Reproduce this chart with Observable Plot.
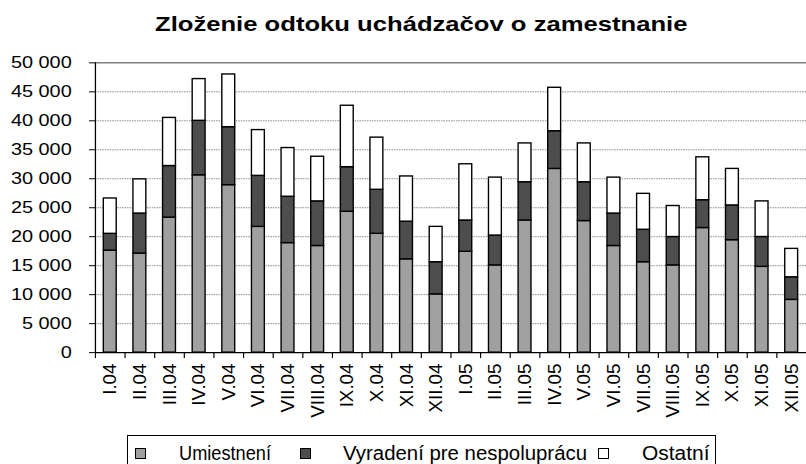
<!DOCTYPE html>
<html>
<head>
<meta charset="utf-8">
<script src="https://cdn.jsdelivr.net/npm/d3@7"></script>
<script src="https://cdn.jsdelivr.net/npm/@observablehq/plot@0.6"></script>
<style>
html, body { margin: 0; padding: 0; background: #fff; overflow: hidden; width: 806px; height: 464px; }
#wrap { position: relative; width: 806px; height: 464px; overflow: hidden; font-family: "Liberation Sans", Arial, sans-serif; color: #000; }
#title { position: absolute; left: 0; top: 12px; width: 842px; text-align: center; font-weight: bold; font-size: 21px; line-height: 24px; }
#title span { display: inline-block; transform: scaleX(1.22); transform-origin: 50% 50%; }
#chart { position: absolute; left: 0; top: 50px; }
#legend { position: absolute; left: 127px; top: 435px; width: 589px; height: 40px; border: 1px solid #000; box-sizing: border-box; }
.sw { position: absolute; top: 12px; width: 9px; height: 9px; border: 1px solid #000; }
.lt { position: absolute; top: 6px; font-size: 19.5px; line-height: 22px; white-space: nowrap; transform-origin: 0 50%; }
</style>
</head>
<body>
<div id="wrap">
  <div id="title"><span>Zloženie odtoku uchádzačov o zamestnanie</span></div>
  <div id="chart"></div>
  <div id="legend"></div>
</div>
<script>
const categories = ["I.04","II.04","III.04","IV.04","V.04","VI.04","VII.04","VIII.04","IX.04","X.04","XI.04","XII.04",
  "I.05","II.05","III.05","IV.05","V.05","VI.05","VII.05","VIII.05","IX.05","X.05","XI.05","XII.05"];
const seriesNames = ["Umiestnení", "Vyradení pre nespoluprácu", "Ostatní"];
const seriesColors = ["#a0a0a0", "#4d4d4d", "#ffffff"];
const umiestneni = [17600,17100,23300,30600,28900,21700,18900,18400,24300,20500,16100,10050,
  17400,15050,22800,31700,22700,18400,15600,15050,21500,19400,14800,9100];
const vyradeni = [2900,6900,8900,9400,10000,8800,8000,7700,7700,7600,6500,5550,
  5400,5150,6600,6500,6700,5600,5600,4900,4800,6000,5150,3900];
const ostatne = [6100,5900,8300,7200,9100,7900,8400,7700,10600,9000,7800,6100,
  9700,10000,6700,7500,6700,6200,6200,5350,7400,6300,6150,4900];
const yTicks = [0,5000,10000,15000,20000,25000,30000,35000,40000,45000,50000];
const gridTicks = [5000,10000,15000,20000,25000,30000,35000,40000,45000];
const yMax = 50000;

const seriesValues = [umiestneni, vyradeni, ostatne];
const data = categories.flatMap((c, i) => seriesNames.map((s, k) => ({month: c, series: s, value: seriesValues[k][i]})));

const width = 815, marginLeft = 96, marginRight = 0;
const halfStep = (width - marginLeft - marginRight) / categories.length / 2;
const fmt = d => d === 0 ? "0" : d3.format(",")(d).replace(/,/g, " ");

const chart = Plot.plot({
  width, height: 386,
  marginLeft, marginRight, marginTop: 12.5, marginBottom: 80.5,
  style: {fontFamily: "'Liberation Sans', Arial, sans-serif", fontSize: "18px", color: "#000", background: "transparent", overflow: "visible"},
  x: {domain: categories, paddingInner: 0.565, paddingOuter: 0.2825, round: false, axis: null, label: null},
  y: {domain: [0, yMax], axis: null, label: null},
  color: {domain: seriesNames, range: seriesColors},
  marks: [
    Plot.ruleY(gridTicks, {y: d => d, stroke: "#8a8a8a", strokeWidth: 1, strokeDasharray: "1.5,1"}),
    Plot.ruleY([yMax], {stroke: "#808080", strokeWidth: 1.5}),
    Plot.barY(data, {x: "month", y: "value", fill: "series", stroke: "#000", strokeWidth: 1.4, order: seriesNames}),
    Plot.ruleX([categories[0]], {x: d => d, dx: -halfStep, y1: 0, y2: yMax, stroke: "#000", strokeWidth: 1.3}),
    Plot.ruleY([0], {stroke: "#000", strokeWidth: 1.3}),
    Plot.ruleX(categories, {x: d => d, dx: -halfStep, y1: 0, y2: 0, insetBottom: -6, stroke: "#000", strokeWidth: 1.2}),
    Plot.axisY({ticks: yTicks, tickSize: 6, tickPadding: 18, tickFormat: fmt, fontSize: 17.5, label: null}),
    Plot.axisX({tickSize: 0, tickRotate: -90, tickPadding: 11, fontSize: 19, label: null})
  ]
});
document.getElementById("chart").appendChild(chart);

// horizontal stretch of the y tick labels, as in the reference
chart.querySelectorAll('g[aria-label="y-axis tick label"] text').forEach(t => {
  const L = t.getComputedTextLength();
  t.setAttribute("textLength", L * 1.15);
  t.setAttribute("lengthAdjust", "spacingAndGlyphs");
});

// legend
const legend = document.getElementById("legend");
const swX = [7, 172, 470];
const txX = [51, 215, 514];
const txW = [92, 244, 67.5];
seriesNames.forEach((s, k) => {
  const sw = document.createElement("div");
  sw.className = "sw"; sw.style.left = swX[k] + "px"; sw.style.background = seriesColors[k];
  legend.appendChild(sw);
  const t = document.createElement("div");
  t.className = "lt"; t.style.left = txX[k] + "px"; t.textContent = s;
  legend.appendChild(t);
  const w = t.getBoundingClientRect().width;
  t.style.transform = `scaleX(${txW[k] / w})`;
});
</script>
</body>
</html>
